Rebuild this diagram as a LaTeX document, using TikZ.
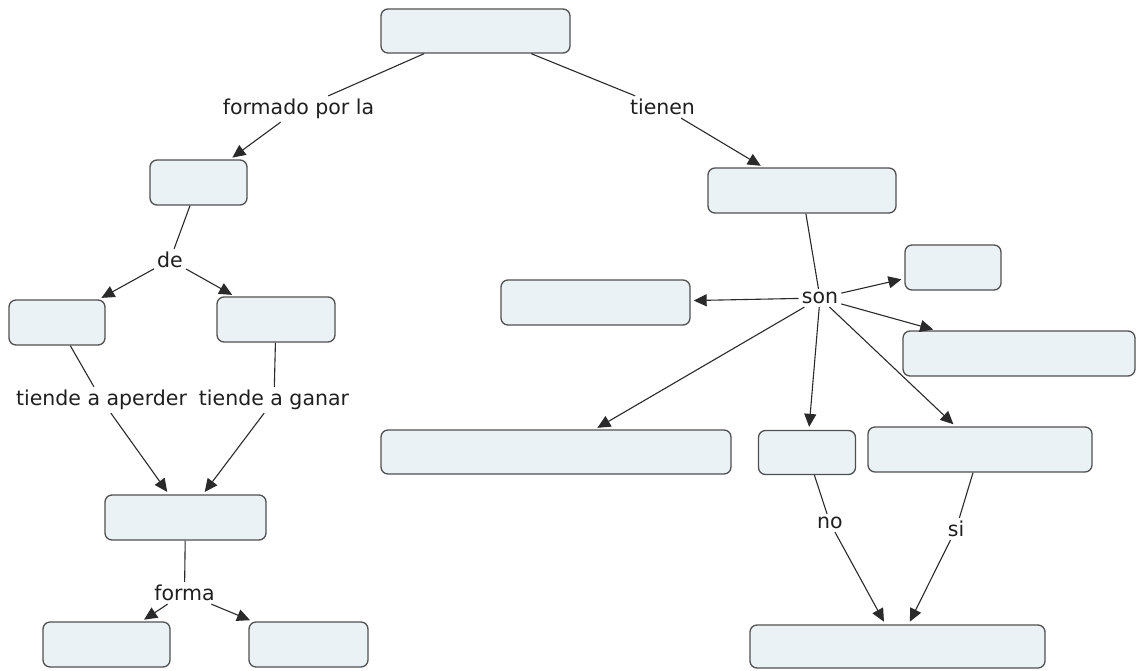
\documentclass[tikz,border=0pt]{standalone}
\usepackage{fontspec}
\setmainfont{DejaVu Sans}
\usetikzlibrary{arrows.meta}
\definecolor{boxfill}{HTML}{EBF2F5}
\definecolor{boxline}{HTML}{505050}
\definecolor{conn}{HTML}{2A2A2A}
\begin{document}
\begin{tikzpicture}[x=1pt,y=-1pt,
  box/.style={draw=boxline,fill=boxfill,line width=1.3pt,rounded corners=7pt,inner sep=0pt},
  lbl/.style={inner sep=3pt,font=\fontsize{20.5}{23}\selectfont,text=black!88},
  conline/.style={draw=conn,line width=1.1pt},
  conarrow/.style={conline,-{Triangle[length=13pt,width=12pt]},shorten >=3pt}]
\useasboundingbox (0,0) rectangle (1137,670);
% concept boxes
\node[box,minimum width=189pt,minimum height=44pt] (top) at (475.5,31) {};
\node[box,minimum width=97pt,minimum height=45pt] (l1) at (198.5,182.5) {};
\node[box,minimum width=96pt,minimum height=45pt] (l2a) at (57,322.5) {};
\node[box,minimum width=118pt,minimum height=45pt] (l2b) at (276,319.5) {};
\node[box,minimum width=161pt,minimum height=45pt] (l3) at (185.5,517.5) {};
\node[box,minimum width=127pt,minimum height=45pt] (l4a) at (106.5,644.5) {};
\node[box,minimum width=119pt,minimum height=45pt] (l4b) at (308.5,644.5) {};
\node[box,minimum width=188pt,minimum height=45pt] (r1) at (802,190.5) {};
\node[box,minimum width=189pt,minimum height=45pt] (r2) at (595.5,302.5) {};
\node[box,minimum width=96pt,minimum height=45pt] (r3) at (953,267.5) {};
\node[box,minimum width=232pt,minimum height=45pt] (r4) at (1019,353.5) {};
\node[box,minimum width=350pt,minimum height=44pt] (r5) at (556,452) {};
\node[box,minimum width=97pt,minimum height=44pt] (r6) at (807,452.5) {};
\node[box,minimum width=224pt,minimum height=45pt] (r7) at (980,449.5) {};
\node[box,minimum width=295pt,minimum height=43pt] (r8) at (897.5,646.5) {};
% linking phrases
\node[lbl] (formado) at (298.5,109) {formado por la};
\node[lbl] (tienen) at (662.5,107) {tienen};
\node[lbl] (de) at (170,260) {de};
\node[lbl] (aperder) at (101.5,400) {tiende a aperder};
\node[lbl] (ganar) at (274,400) {tiende a ganar};
\node[lbl] (forma) at (184.5,593) {forma};
\node[lbl] (son) at (820,298) {son};
\node[lbl] (no) at (830,523) {no};
\node[lbl] (si) at (956,529) {si};
% connectors
\draw[conline] (top) -- (formado);
\draw[conarrow] (formado) -- (l1);
\draw[conline] (top) -- (tienen);
\draw[conarrow] (tienen) -- (r1);
\draw[conline] (l1) -- (de);
\draw[conarrow] (de) -- (l2a);
\draw[conarrow] (de) -- (l2b);
\draw[conline] (l2a) -- (aperder);
\draw[conarrow] (aperder) -- (l3);
\draw[conline] (l2b) -- (ganar);
\draw[conarrow] (ganar) -- (l3);
\draw[conline] (l3) -- (forma);
\draw[conarrow] (forma) -- (l4a);
\draw[conarrow] (forma) -- (l4b);
\draw[conline] (r1) -- (son);
\draw[conarrow] (son) -- (r2);
\draw[conarrow] (son) -- (r3);
\draw[conarrow] (son) -- (r4);
\draw[conarrow] (son) -- (r5);
\draw[conarrow] (son) -- (r6);
\draw[conarrow] (son) -- (r7);
\draw[conline] (r6) -- (no);
\draw[conarrow] (no) -- (r8);
\draw[conline] (r7) -- (si);
\draw[conarrow] (si) -- (r8);
\end{tikzpicture}
\end{document}
